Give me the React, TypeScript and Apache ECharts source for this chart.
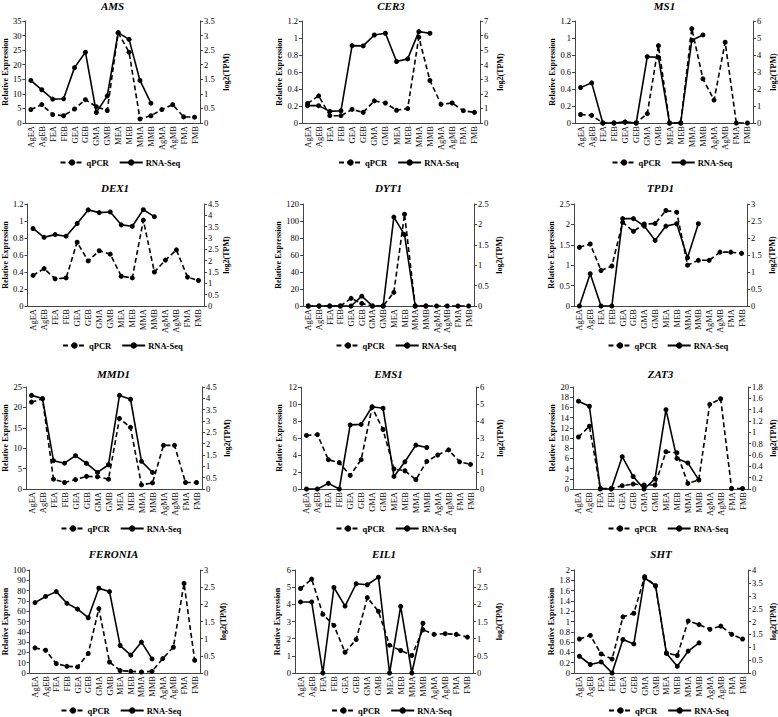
import React, { useEffect, useRef } from 'react';
import * as echarts from 'echarts';

const categories = ['AgEA', 'AgEB', 'FEA', 'FEB', 'GEA', 'GEB', 'GMA', 'GMB', 'MEA', 'MEB', 'MMA', 'MMB', 'AgMA', 'AgMB', 'FMA', 'FMB'];
const geneNames = ['AMS', 'CER3', 'MS1', 'DEX1', 'DYT1', 'TPD1', 'MMD1', 'EMS1', 'ZAT3', 'FERONIA', 'EIL1', 'SHT'];

const amsQpcr = [4.6, 6.3, 2.9, 2.5, 4.8, 8.0, 5.6, 4.3, 31, 24.3, 1.4, 2.5, 4.6, 6.3, 2.1, 2.0];
const amsRna = [1.46, 1.14, 0.82, 0.83, 1.9, 2.43, 0.36, 0.93, 3.1, 2.87, 1.46, 0.68];
const cer3Qpcr = [0.23, 0.32, 0.086, 0.086, 0.16, 0.125, 0.26, 0.235, 0.15, 0.17, 1.01, 0.5, 0.22, 0.235, 0.145, 0.125];
const cer3Rna = [1.19, 1.19, 0.8, 0.84, 5.31, 5.29, 6.04, 6.16, 4.22, 4.4, 6.27, 6.16];
const ms1Qpcr = [0.1, 0.09, 0, 0, 0.01, 0, 0.11, 0.91, 0, 0, 1.11, 0.52, 0.27, 0.95, 0, 0];
const ms1Rna = [2.09, 2.36, 0, 0, 0.05, 0, 3.9, 3.86, 0, 0, 4.87, 5.18];
const dex1Qpcr = [0.36, 0.44, 0.32, 0.33, 0.75, 0.53, 0.65, 0.61, 0.35, 0.33, 1.01, 0.4, 0.54, 0.66, 0.34, 0.3];
const dex1Rna = [3.42, 3.03, 3.15, 3.08, 3.64, 4.24, 4.12, 4.15, 3.58, 3.52, 4.25, 3.94];
const dyt1Qpcr = [0, 0, 0, 0, 9, 3, 0, 0, 16, 108, 0, 0, 0, 0, 0, 0];
const dyt1Rna = [0, 0, 0, 0, 0, 0.24, 0, 0, 2.18, 1.75, 0, 0];
const tpd1Qpcr = [1.44, 1.52, 0.87, 0.98, 2.05, 1.83, 2.01, 2.02, 2.34, 2.3, 1.0, 1.12, 1.12, 1.32, 1.32, 1.29];
const tpd1Rna = [0, 0.95, 0, 0, 2.57, 2.57, 2.35, 1.93, 2.35, 2.42, 1.42, 2.42];
const mmd1Qpcr = [21.3, 22.1, 2.4, 1.6, 2.3, 3.1, 3.0, 2.4, 17.3, 15.1, 1.0, 1.5, 10.7, 10.7, 1.6, 1.6];
const mmd1Rna = [4.13, 3.99, 1.25, 1.14, 1.47, 1.13, 0.73, 1.07, 4.13, 3.96, 1.22, 0.73];
const ems1Qpcr = [6.3, 6.4, 3.45, 3.1, 1.6, 3.45, 9.6, 7.0, 2.35, 2.15, 1.1, 3.25, 4.0, 4.6, 3.2, 2.9];
const ems1Rna = [0, 0, 0.33, 0, 3.77, 3.8, 4.84, 4.75, 0.74, 1.6, 2.58, 2.44];
const zat3Qpcr = [10.2, 12.3, 0.1, 0.1, 0.65, 0.97, 0.78, 0.78, 7.3, 7.1, 1.1, 1.8, 16.6, 17.7, 0.1, 0.1];
const zat3Rna = [1.55, 1.46, 0, 0, 0.57, 0.22, 0, 0.18, 1.4, 0.54, 0.46, 0.16];
const feroniaQpcr = [24.4, 22.1, 9.1, 6.5, 5.9, 18.9, 62.5, 10.7, 2.3, 1.6, 1.0, 1.6, 14, 25, 87, 12.4];
const feroniaRna = [2.05, 2.23, 2.37, 2.03, 1.86, 1.61, 2.47, 2.37, 0.8, 0.52, 0.9, 0.41];
const eil1Qpcr = [4.92, 5.47, 3.42, 2.77, 1.21, 1.95, 4.39, 3.59, 1.62, 1.31, 1.02, 2.52, 2.25, 2.29, 2.25, 2.09];
const eil1Rna = [2.07, 2.07, 0, 2.49, 1.95, 2.6, 2.57, 2.79, 0, 1.94, 0, 1.45];
const shtQpcr = [0.66, 0.73, 0.37, 0.27, 1.09, 1.16, 1.87, 1.69, 0.39, 0.34, 1.01, 0.94, 0.85, 0.91, 0.75, 0.66];
const shtRna = [0.65, 0.33, 0.43, 0, 1.3, 1.13, 3.69, 3.39, 0.76, 0.26, 0.85, 1.17];

const qpcrData = [amsQpcr, cer3Qpcr, ms1Qpcr, dex1Qpcr, dyt1Qpcr, tpd1Qpcr, mmd1Qpcr, ems1Qpcr, zat3Qpcr, feroniaQpcr, eil1Qpcr, shtQpcr];
const rnaData = [amsRna, cer3Rna, ms1Rna, dex1Rna, dyt1Rna, tpd1Rna, mmd1Rna, ems1Rna, zat3Rna, feroniaRna, eil1Rna, shtRna];

const leftMax = [35, 1.2, 1.2, 1.2, 120, 2.5, 25, 12, 20, 100, 6, 2];
const leftStep = [5, 0.2, 0.2, 0.2, 20, 0.5, 5, 2, 2, 10, 1, 0.2];
const rightMax = [3.5, 7, 6, 4.5, 2.5, 3, 4.5, 6, 1.8, 3, 3, 4];
const rightStep = [0.5, 1, 1, 0.5, 0.5, 0.5, 0.5, 1, 0.2, 0.5, 0.5, 0.5];

// layout (pixels)
const panelX = [
  [25, 200], [302, 480], [575, 754],
  [26, 204], [303, 474], [574, 747],
  [25, 202], [301, 476], [573, 748],
  [27, 200], [295, 473], [574, 748],
];
const rowY = [[21, 123], [204, 306], [387, 489], [570, 673]];
const titleY = [6, 188, 374, 554];
const legendY = [163, 346, 529, 711];
const leftGap = [16, 19, 18, 16, 20, 19, 17, 18, 17, 18, 14, 18];
const rightGap = [22, 16, 16, 18, 21, 21, 21, 20, 21, 19, 22, 21];

const FONT = '"Liberation Serif", "Times New Roman", serif';

export default function App() {
  const ref = useRef<HTMLDivElement>(null);
  useEffect(() => {
    if (!ref.current) return;
    const chart = echarts.init(ref.current, undefined, { renderer: 'svg' });
    const grids: any[] = [];
    const xAxes: any[] = [];
    const yAxes: any[] = [];
    const series: any[] = [];
    const legends: any[] = [];
    const graphics: any[] = [];
    geneNames.forEach((name, i) => {
      const row = Math.floor(i / 3);
      const [x0, x1] = panelX[i];
      const [y0, y1] = rowY[row];
      const cx = (x0 + x1) / 2;
      grids.push({ left: x0, top: y0, width: x1 - x0, height: y1 - y0 });
      xAxes.push({
        type: 'category', gridIndex: i, data: categories, boundaryGap: true,
        axisLine: { show: true, lineStyle: { color: '#444', width: 1 } },
        axisTick: { show: false },
        axisLabel: { rotate: 90, interval: 0, fontSize: 8.5, fontFamily: FONT, color: '#000', margin: 3 },
      });
      const yCommon = {
        type: 'value', gridIndex: i, min: 0,
        axisLine: { show: true, lineStyle: { color: '#444', width: 1 } },
        axisTick: { show: true, length: 3, lineStyle: { color: '#444' } },
        splitLine: { show: false },
        axisLabel: { fontSize: 8.5, fontFamily: FONT, color: '#000', margin: 4 },
        nameLocation: 'middle',
        nameTextStyle: { fontSize: 8, fontWeight: 'bold', fontFamily: FONT, color: '#000' },
      };
      yAxes.push({ ...yCommon, position: 'left', max: leftMax[i], interval: leftStep[i], name: 'Relative Expression', nameGap: leftGap[i] });
      yAxes.push({ ...yCommon, position: 'right', max: rightMax[i], interval: rightStep[i], name: 'log2(TPM)', nameGap: rightGap[i] });
      series.push({
        name: 'qPCR', type: 'line', xAxisIndex: i, yAxisIndex: 2 * i, data: qpcrData[i],
        symbol: 'circle', symbolSize: 5, itemStyle: { color: '#000' },
        lineStyle: { color: '#000', width: 1.6, type: [5, 3] },
      });
      series.push({
        name: 'RNA-Seq', type: 'line', xAxisIndex: i, yAxisIndex: 2 * i + 1, data: rnaData[i],
        symbol: 'circle', symbolSize: 5, itemStyle: { color: '#000' },
        lineStyle: { color: '#000', width: 1.6, type: 'solid' },
      });
      legends.push({
        data: ['qPCR', 'RNA-Seq'], left: cx - 53, top: legendY[row] - 5, padding: 0,
        itemWidth: 23, itemHeight: 8, itemGap: 10, selectedMode: false,
        textStyle: { fontSize: 8.5, fontWeight: 'bold', fontFamily: FONT, color: '#000', padding: [0, 0, 0, -2] },
      });
      graphics.push({
        type: 'text', x: cx, y: titleY[row],
        style: {
          text: name, textAlign: 'center', textVerticalAlign: 'middle', align: 'center', verticalAlign: 'middle',
          font: `italic bold 11px ${FONT}`, fill: '#000',
        },
      });
    });
    chart.setOption({
      animation: false,
      backgroundColor: '#fff',
      grid: grids,
      xAxis: xAxes,
      yAxis: yAxes,
      series,
      legend: legends,
      graphic: graphics,
    });
    return () => chart.dispose();
  }, []);
  return <div ref={ref} style={{ position: 'fixed', left: 0, top: 0, width: 778, height: 717 }} />;
}
